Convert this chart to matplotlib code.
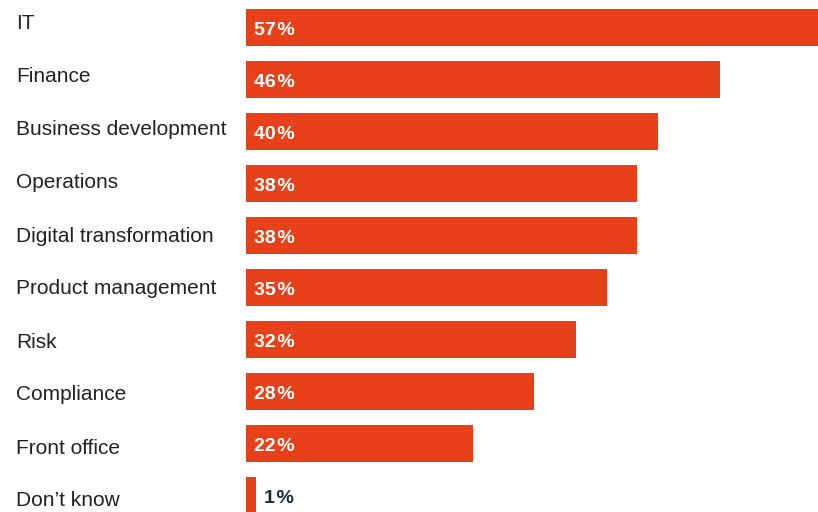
import matplotlib.pyplot as plt

categories = ['IT', 'Finance', 'Business development', 'Operations',
              'Digital transformation', 'Product management', 'Risk',
              'Compliance', 'Front office', 'Don\u2019t know']
values = [57, 46, 40, 38, 38, 35, 32, 28, 22, 1]
value_labels = ['57%', '46%', '40%', '38%', '38%', '35%', '32%', '28%', '22%', '1%']

bar_color = '#E8411A'

plt.rcParams['font.family'] = ['Liberation Sans', 'DejaVu Sans']

fig = plt.figure(figsize=(8.18, 5.12), dpi=100)
ax = fig.add_axes([246 / 818, 0, 1 - 246 / 818, 1])

ypos = list(range(len(categories)))
ax.barh(ypos, values, height=0.72, color=bar_color)

ax.set_xlim(0, 572 / 10.3)
ax.set_ylim((512 - 27.5) / 52, -27.5 / 52)
ax.axis('off')

for i, (v, lab, cat) in enumerate(zip(values, value_labels, categories)):
    # category names drift slightly relative to the bars in the original
    ax.annotate(cat, xy=(0, i), xycoords=('figure pixels', 'data'),
                xytext=(16, -(2 + i)), textcoords='offset pixels',
                ha='left', va='baseline', fontsize=15, color='#222222')
    txt = lab.replace('%', '\u200a%')
    if v > 5:
        ax.annotate(txt, xy=(0, i), xytext=(8, -7.5), textcoords='offset pixels',
                    ha='left', va='baseline', fontsize=14, fontweight='bold',
                    color='white')
    else:
        ax.annotate(txt, xy=(v, i), xytext=(8, -7.5), textcoords='offset pixels',
                    ha='left', va='baseline', fontsize=14, fontweight='bold',
                    color='#1c2a36')

fig.savefig('out.png', dpi=100)
